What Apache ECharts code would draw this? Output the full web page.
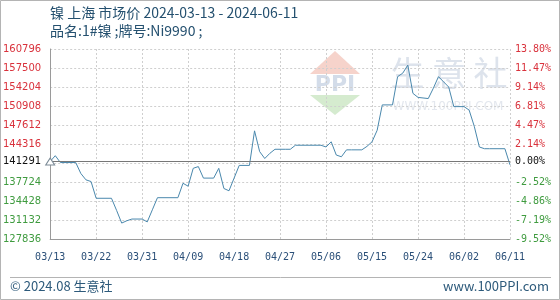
<!DOCTYPE html>
<html>
<head>
<meta charset="utf-8">
<script src="https://cdn.jsdelivr.net/npm/echarts@6/dist/echarts.min.js"></script>
<style>
html,body{margin:0;padding:0;background:#fff;}
#c{width:560px;height:300px;}
</style>
</head>
<body>
<div id="c"></div>
<script>
const titleText = '镍 上海 市场价 2024-03-13 - 2024-06-11';
const subTitleText = '品名:1#镍 ;牌号:Ni9990 ;';
const footerLeft = '© 2024.08 生意社';
const footerRight = 'www.100PPI.com';

const basePrice = 141291;
const yMin = 127836;
const yMax = 160796;
const yStep = 3296;
const yLabelValues = [127836, 131132, 134428, 137724, 141291, 144316, 147612, 150908, 154204, 157500, 160796];

const xStart = '2024-03-13';
const xEnd = '2024-06-11';
const xStepDays = 9;

const dates = [
  '2024-03-13','2024-03-14','2024-03-15','2024-03-18','2024-03-19','2024-03-20','2024-03-21','2024-03-22',
  '2024-03-25','2024-03-26','2024-03-27','2024-03-28','2024-03-29','2024-03-31','2024-04-01','2024-04-02',
  '2024-04-03','2024-04-07','2024-04-08','2024-04-09','2024-04-10','2024-04-11','2024-04-12','2024-04-14',
  '2024-04-15','2024-04-16','2024-04-17','2024-04-18','2024-04-19','2024-04-21','2024-04-22','2024-04-23',
  '2024-04-24','2024-04-25','2024-04-26','2024-04-28','2024-04-29','2024-04-30','2024-05-05','2024-05-06',
  '2024-05-07','2024-05-08','2024-05-09','2024-05-10','2024-05-11','2024-05-13','2024-05-14','2024-05-15',
  '2024-05-16','2024-05-17','2024-05-19','2024-05-20','2024-05-21','2024-05-22','2024-05-23','2024-05-24',
  '2024-05-26','2024-05-27','2024-05-28','2024-05-29','2024-05-30','2024-05-31','2024-06-02','2024-06-03',
  '2024-06-04','2024-06-05','2024-06-06','2024-06-07','2024-06-10','2024-06-11'
];
const prices = [
  141291,142287,141100,141100,139200,138100,137800,134900,
  134900,132800,130600,131000,131300,131300,130800,132900,
  135000,135000,137500,137000,140100,140400,138400,138400,
  140100,136600,136200,138400,140600,140600,146600,143000,
  141800,142700,143400,143400,143400,144100,144100,143800,
  144700,142400,142100,143300,143300,143300,143900,144700,
  146700,151100,151100,156000,156600,158000,153100,152400,
  152200,154000,156000,155100,154200,150800,150800,150200,
  147400,143800,143500,143500,143500,140700
];

const DAY = 86400000;
const t0 = Date.parse(xStart);
const t1 = Date.parse(xEnd);
const seriesData = dates.map((d, i) => [Date.parse(d), prices[i]]);

const RED = '#d9323c';
const GREEN = '#3f9b3f';
const BLACK = '#111';
function labelColor(v) {
  v = parseFloat(v);
  if (Math.abs(v - basePrice) < 1) return BLACK;
  return v > basePrice ? RED : GREEN;
}
function pad(n) { return (n < 10 ? '0' : '') + n; }

const chart = echarts.init(document.getElementById('c'), null, {renderer: 'canvas'});
chart.setOption({
  animation: false,
  backgroundColor: '#fff',
  grid: {left: 50, right: 50, top: 49, bottom: 61, containLabel: false},
  xAxis: {
    type: 'value',
    min: t0, max: t1, interval: xStepDays * DAY,
    axisLine: {show: true, lineStyle: {color: '#9a9a9a', width: 1}},
    axisTick: {show: false},
    splitLine: {show: true, lineStyle: {color: '#cfcfcf', type: [2, 2], width: 1}},
    axisLabel: {
      margin: 13,
      fontFamily: 'DejaVu Sans Mono', fontSize: 10, color: '#2a4f78',
      showMinLabel: true, showMaxLabel: true,
      formatter: v => { const d = new Date(v); return pad(d.getUTCMonth() + 1) + '/' + pad(d.getUTCDate()); }
    }
  },
  yAxis: [{
    type: 'value', position: 'left',
    min: yMin, max: yMax, interval: yStep,
    axisLine: {show: true, lineStyle: {color: '#9a9a9a', width: 1}},
    axisTick: {show: false},
    splitLine: {show: true, lineStyle: {color: '#cfcfcf', type: [2, 2], width: 1}},
    axisLabel: {
      customValues: yLabelValues,
      margin: 9,
      fontFamily: 'DejaVu Sans', fontSize: 10,
      color: labelColor,
      formatter: v => String(Math.round(v))
    }
  }, {
    type: 'value', position: 'right',
    min: yMin, max: yMax, interval: yStep,
    axisLine: {show: false},
    axisTick: {show: false},
    splitLine: {show: false},
    axisLabel: {
      customValues: yLabelValues,
      margin: 5,
      fontFamily: 'DejaVu Sans Mono', fontSize: 10,
      color: labelColor,
      formatter: v => ((v / basePrice - 1) * 100).toFixed(2) + '%'
    }
  }],
  graphic: [
    {type: 'rect', shape: {x: 0.5, y: 0.5, width: 559, height: 299}, style: {fill: null, stroke: '#b4b4b4', lineWidth: 1}, silent: true},
    {type: 'text', left: 50, top: 6, style: {text: titleText, font: '14px "Noto Sans CJK SC"', fill: '#24506f'}},
    {type: 'text', left: 50, top: 24, style: {text: subTitleText, font: '14px "Noto Sans CJK SC"', fill: '#24506f'}},
    {type: 'line', shape: {x1: 10, y1: 277.5, x2: 551, y2: 277.5}, style: {stroke: '#b4b4b4', lineWidth: 1}},
    {type: 'text', left: 10, top: 280, style: {text: footerLeft, font: '13px "Noto Sans CJK SC"', fill: '#2d5a7b'}},
    {type: 'text', right: 11, top: 280, style: {text: footerRight, font: '13px "Noto Sans CJK SC"', fill: '#2d5a7b'}},
    // watermark logo
    {type: 'polygon', z: -1, shape: {points: [[335, 51], [310, 74], [360, 74]]}, style: {fill: '#f6d3cb'}},
    {type: 'text', z: -1, x: 335, y: 85, style: {text: 'PPI', font: 'bold 22px "DejaVu Sans"', fill: '#d3dce9', align: 'center', verticalAlign: 'middle'}},
    {type: 'polygon', z: -1, shape: {points: [[310, 95], [360, 95], [335, 115]]}, style: {fill: '#d5ebcf'}},
    {type: 'text', z: -1, x: 449, y: 73, style: {text: '生 意 社', font: '34px "Noto Sans CJK SC"', fill: '#dde3ec', align: 'center', verticalAlign: 'middle'}},
    {type: 'text', z: -1, x: 448, y: 107, style: {text: 'WWW.100PPI.COM', font: '12px "DejaVu Sans"', fill: '#e3e7ee', align: 'center', verticalAlign: 'middle'}}
  ],
  series: [{
    type: 'line',
    data: seriesData,
    showSymbol: false,
    symbol: 'none',
    lineStyle: {color: '#4a88ad', width: 1},
    z: 3,
    markLine: {
      silent: true, symbol: 'none', label: {show: false},
      lineStyle: {color: '#777', type: 'solid', width: 1},
      data: [{yAxis: basePrice}]
    },
    markPoint: {
      symbol: 'triangle', symbolSize: [9, 7], silent: true,
      itemStyle: {color: '#fff', borderColor: '#7a8a96', borderWidth: 1},
      label: {show: false},
      data: [{coord: [t0, basePrice]}]
    }
  }]
});
</script>
</body>
</html>
